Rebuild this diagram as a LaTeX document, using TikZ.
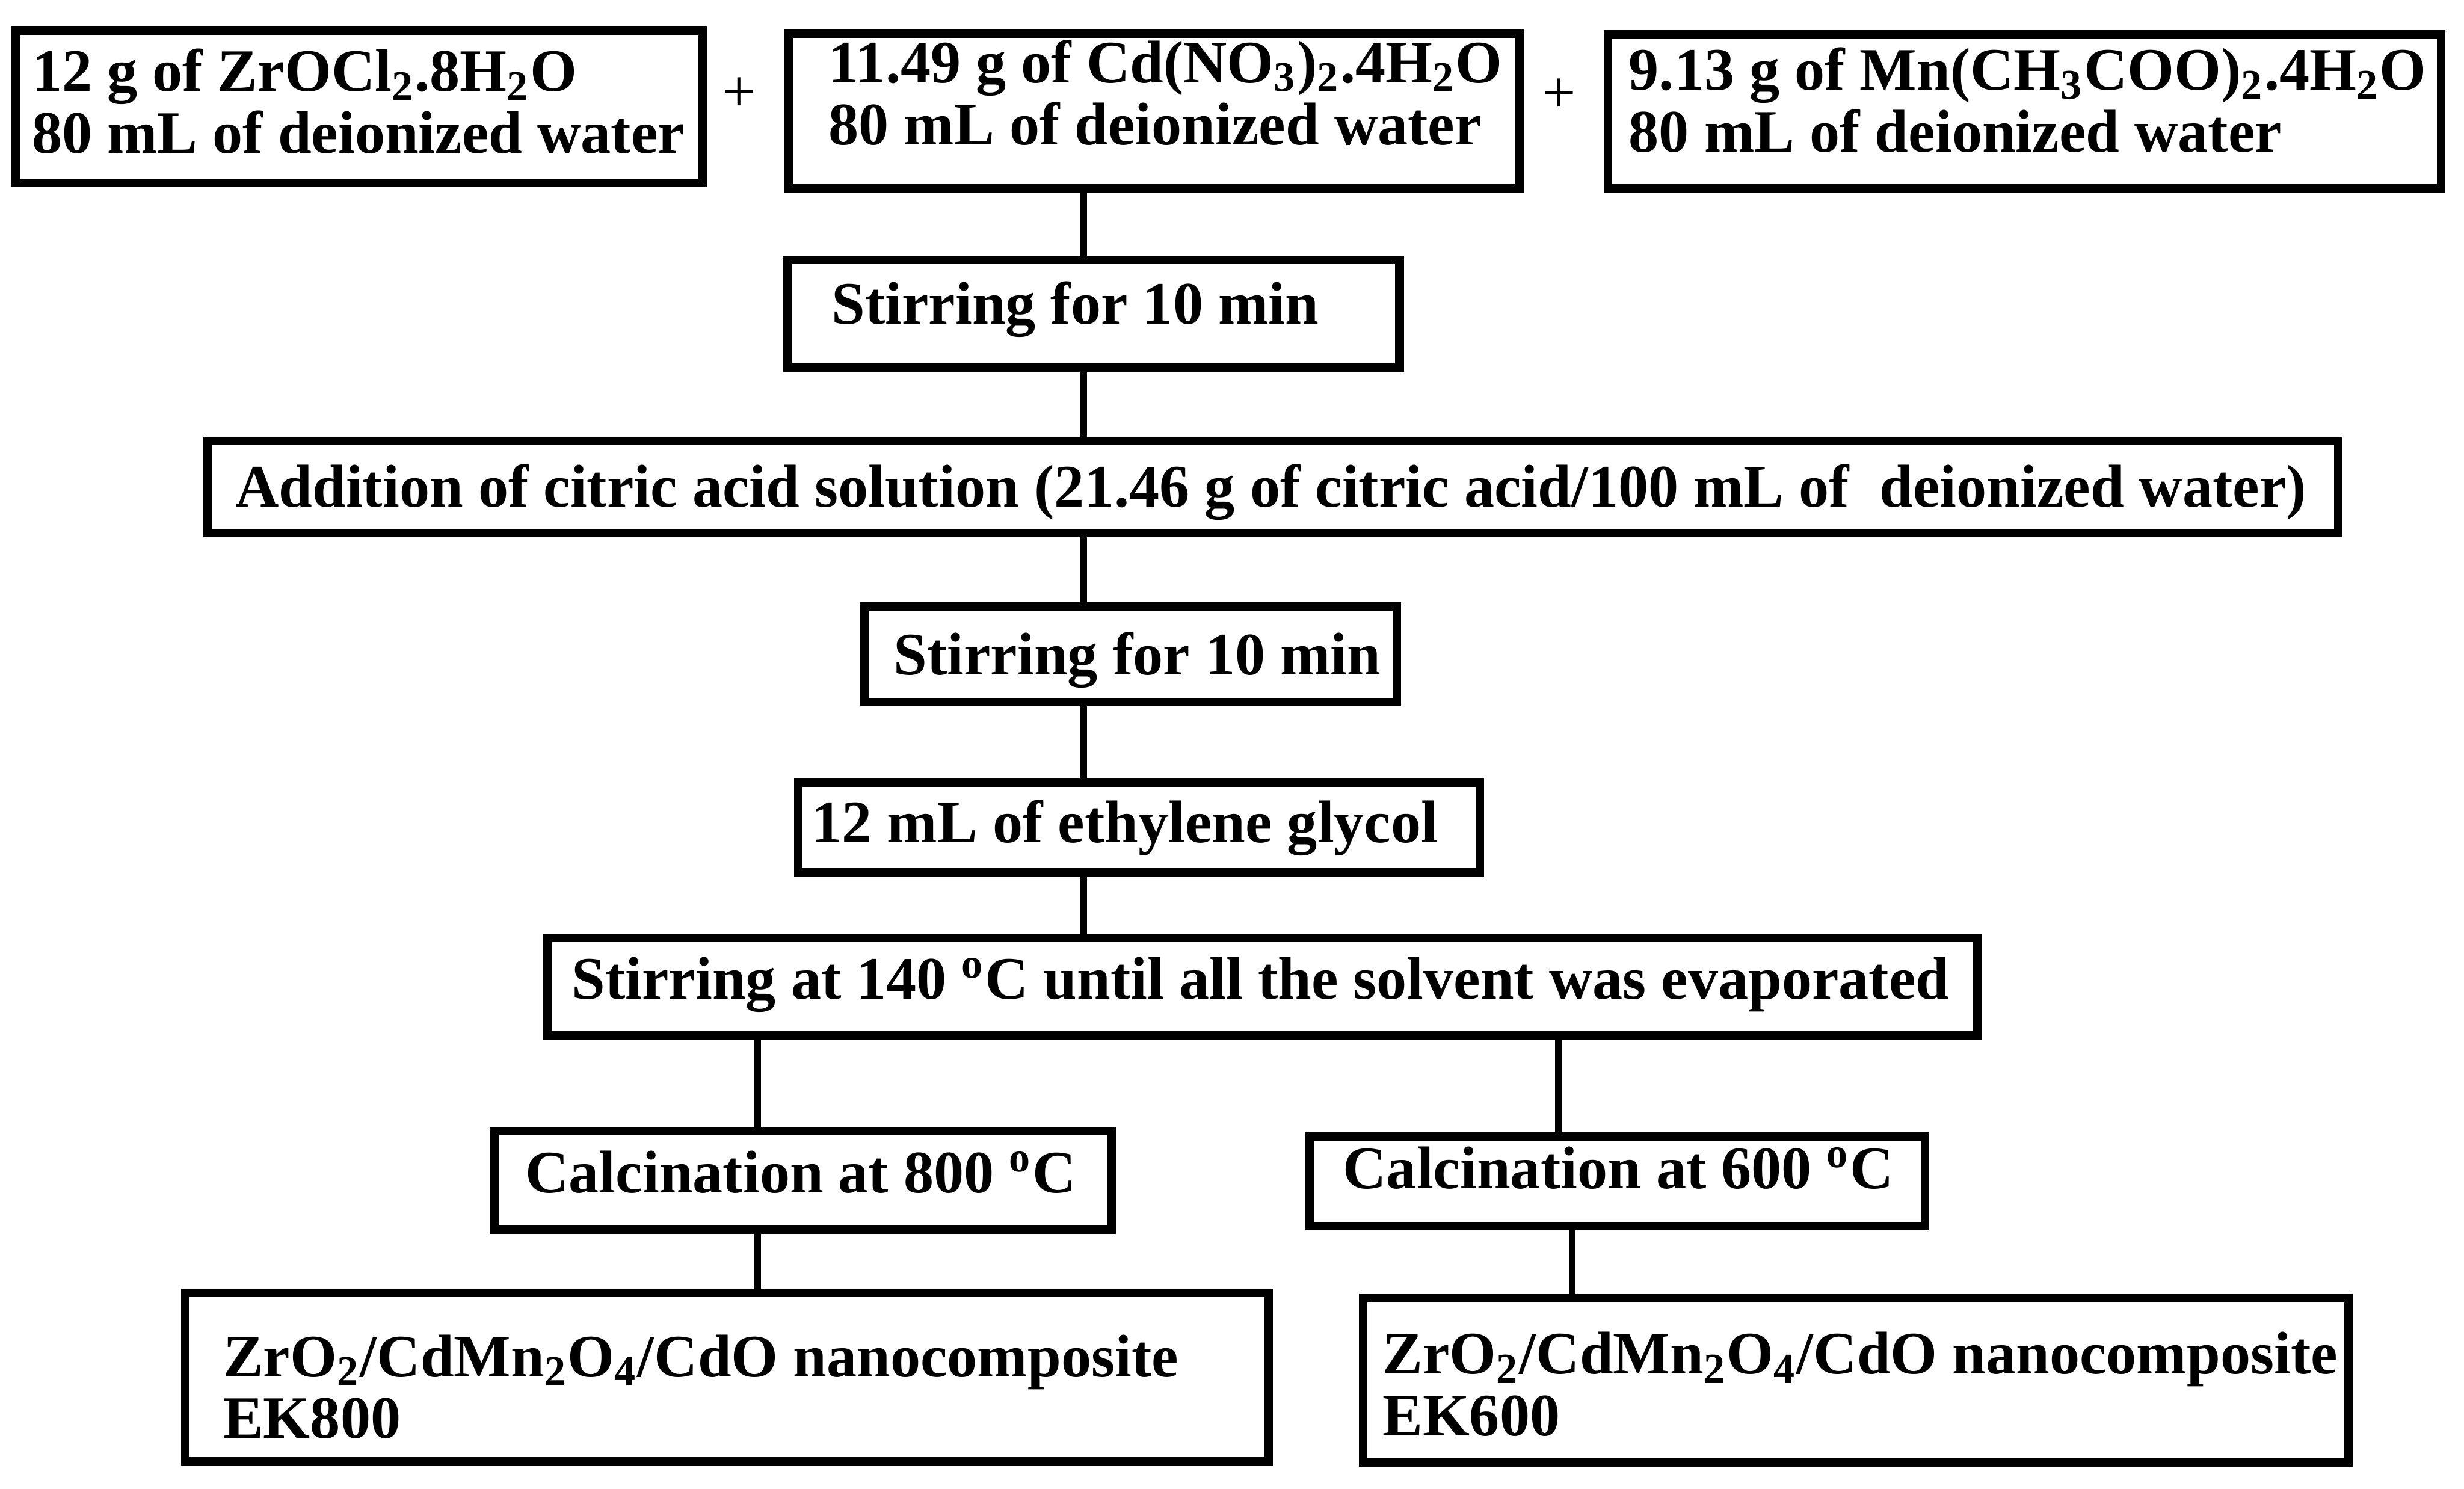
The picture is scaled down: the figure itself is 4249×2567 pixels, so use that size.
\documentclass[tikz,border=0pt]{standalone}
\usepackage{fontspec}
\setmainfont{Liberation Serif}
\usepackage{tikz}
\newlength{\px}
\setlength{\px}{0.005cm}
% text block of a box: [shift down]{width}{lines}
\newcommand{\boxtext}[3][0]{\raisebox{-#1\px}[\height][\depth]{\makebox[#2\px][l]{\begin{tabular}{@{}l@{}}#3\end{tabular}}}}

\begin{document}
\begin{tikzpicture}[x=0.005cm, y=-0.005cm,
  stepbox/.style={draw, rectangle, line width=2.1pt, inner sep=0pt,
    font=\fontsize{14.8pt}{15.2pt}\selectfont\bfseries},
  link/.style={line width=1.7pt},
  plus/.style={inner sep=0pt, font=\fontsize{14.8pt}{15.2pt}\selectfont}]
  \useasboundingbox (0,0) rectangle (4249,2567);
  % Starting solutions
  \node[stepbox, minimum width=1184*\px, minimum height=262*\px] (zr) at (619.5,184.5)
    {\boxtext[5]{1129}{12 g of ZrOCl\textsubscript{2}.8H\textsubscript{2}O\\80 mL of deionized water}};
  \node[stepbox, minimum width=1260*\px, minimum height=266*\px] (cd) at (1990.5,191.5)
    {\boxtext[-17]{1123}{11.49 g of Cd(NO\textsubscript{3})\textsubscript{2}.4H\textsubscript{2}O\\80 mL of deionized water}};
  \node[stepbox, minimum width=1437*\px, minimum height=265*\px] (mn) at (3491,192)
    {\boxtext[-5]{1364}{9.13 g of Mn(CH\textsubscript{3}COO)\textsubscript{2}.4H\textsubscript{2}O\\80 mL of deionized water}};
  \node[plus] (plus1) at (1275,163) {+};
  \node[plus] (plus2) at (2689,165) {+};
  % Mixing steps
  \node[stepbox, minimum width=1056*\px, minimum height=185*\px] (stir1) at (1885.5,541)
    {\boxtext[-4]{903}{Stirring for 10 min}};
  \node[stepbox, minimum width=3675*\px, minimum height=159*\px] (citric) at (2195,840)
    {\boxtext[13]{3578}{Addition of citric acid solution (21.46 g of citric acid/100 mL of \ deionized water)}};
  \node[stepbox, minimum width=918*\px, minimum height=165*\px] (stir2) at (1949.5,1128)
    {\boxtext[14]{817}{Stirring for 10 min}};
  \node[stepbox, minimum width=1175*\px, minimum height=155*\px] (glycol) at (1964,1427)
    {\boxtext[4]{1128}{12 mL of ethylene glycol}};
  \node[stepbox, minimum width=2465*\px, minimum height=168*\px] (stir140) at (2177,1701.5)
    {\boxtext{2382}{Stirring at 140 \textsuperscript{o}C until all the solvent was evaporated}};
  % Calcination
  \node[stepbox, minimum width=1064*\px, minimum height=170*\px] (calc800) at (1384.5,2035.5)
    {\boxtext{957}{Calcination at 800 \textsuperscript{o}C}};
  \node[stepbox, minimum width=1061*\px, minimum height=155*\px] (calc600) at (2789,2037)
    {\boxtext[-9]{946}{Calcination at 600 \textsuperscript{o}C}};
  % Products
  \node[stepbox, minimum width=1868*\px, minimum height=290*\px] (ek800) at (1253.5,2374.5)
    {\boxtext[31]{1737}{ZrO\textsubscript{2}/CdMn\textsubscript{2}O\textsubscript{4}/CdO nanocomposite\\EK800}};
  \node[stepbox, minimum width=1699*\px, minimum height=283*\px] (ek600) at (3200,2380)
    {\boxtext[21]{1632}{ZrO\textsubscript{2}/CdMn\textsubscript{2}O\textsubscript{4}/CdO nanocomposite\\EK600}};
  % Connectors
  \coordinate (trunk) at (1868,0);
  \coordinate (lbr) at (1306,0);
  \coordinate (rbr) at (2687,0);
  \coordinate (rbr2) at (2711,0);
  \draw[link] (cd.south -| trunk) -- (stir1.north -| trunk);
  \draw[link] (stir1.south -| trunk) -- (citric.north -| trunk);
  \draw[link] (citric.south -| trunk) -- (stir2.north -| trunk);
  \draw[link] (stir2.south -| trunk) -- (glycol.north -| trunk);
  \draw[link] (glycol.south -| trunk) -- (stir140.north -| trunk);
  \draw[link] (stir140.south -| lbr) -- (calc800.north -| lbr);
  \draw[link] (stir140.south -| rbr) -- (calc600.north -| rbr);
  \draw[link] (calc800.south -| lbr) -- (ek800.north -| lbr);
  \draw[link] (calc600.south -| rbr2) -- (ek600.north -| rbr2);
\end{tikzpicture}
\end{document}
